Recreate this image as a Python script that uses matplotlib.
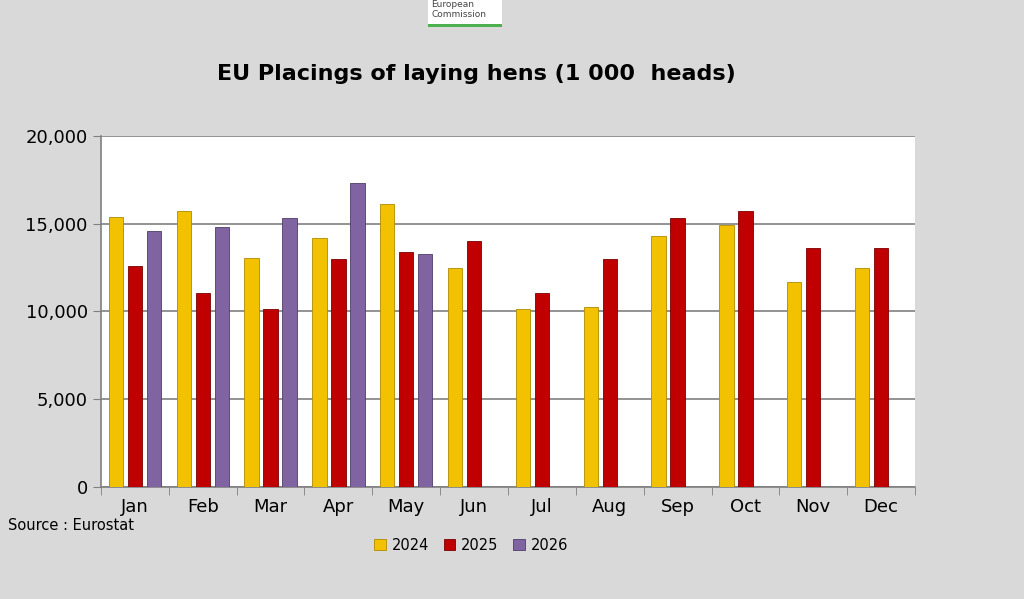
import numpy as np
import matplotlib
matplotlib.use("Agg")
import matplotlib.pyplot as plt
from matplotlib.ticker import FuncFormatter, MultipleLocator

months = ["Jan", "Feb", "Mar", "Apr", "May", "Jun", "Jul", "Aug", "Sep", "Oct", "Nov", "Dec"]
y2024 = [15400, 15700, 13050, 14200, 16100, 12500, 10150, 10250, 14300, 14900, 11700, 12500]
y2025 = [12600, 11050, 10150, 13000, 13400, 14000, 11050, 13000, 15300, 15700, 13600, 13600]
y2026 = [14600, 14800, 15300, 17300, 13300]

fig = plt.figure(figsize=(10.24, 5.99), dpi=100)
fig.patch.set_facecolor("#d9d9d9")
ax = fig.add_axes([0.0986, 0.187, 0.795, 0.586])
ax.set_facecolor("white")

x = np.arange(len(months))
w = 0.21
ax.bar(x - 0.28, y2024, w, color="#f2c200", edgecolor="#b08a00", linewidth=0.6, label="2024", zorder=3)
ax.bar(x, y2025, w, color="#c00000", edgecolor="#7a0000", linewidth=0.6, label="2025", zorder=3)
ax.bar(x[:len(y2026)] + 0.28, y2026, w, color="#8064a2", edgecolor="#4f3b6b", linewidth=0.6, label="2026", zorder=3)

ax.set_xlim(-0.5, 11.5)
ax.set_ylim(0, 20000)
ax.yaxis.set_major_locator(MultipleLocator(5000))
ax.yaxis.set_major_formatter(FuncFormatter(lambda v, p: f"{int(v):,}"))
ax.grid(axis="y", color="#808080", linewidth=1.2, zorder=0)
ax.set_xticks(x)
ax.set_xticklabels(months)
ax.set_xticks(np.arange(-0.5, 12, 1), minor=True)
ax.tick_params(axis="x", which="major", length=0, labelsize=13, pad=8)
ax.tick_params(axis="x", which="minor", length=6, color="#808080")
ax.tick_params(axis="y", labelsize=13, length=6, color="#808080")
for s in ["top", "right"]:
    ax.spines[s].set_visible(False)
for s in ["left", "bottom"]:
    ax.spines[s].set_color("#808080")
    ax.spines[s].set_linewidth(1.2)

fig.text(0.465, 0.877, "EU Placings of laying hens (1 000  heads)", ha="center", va="center",
         fontsize=16, fontweight="bold")
fig.text(0.008, 0.122, "Source : Eurostat", fontsize=10.5, va="center")

# logo stub
fig.patches.append(plt.Rectangle((0.418, 0.958), 0.072, 0.042, transform=fig.transFigure,
                                 facecolor="white", edgecolor="none"))
fig.patches.append(plt.Rectangle((0.418, 0.955), 0.072, 0.005, transform=fig.transFigure,
                                 facecolor="#4caf50", edgecolor="none"))
fig.text(0.421, 0.993, "European", fontsize=6.5, color="#444444", va="center")
fig.text(0.421, 0.975, "Commission", fontsize=6.5, color="#444444", va="center")

fig.legend(loc="center", bbox_to_anchor=(0.46, 0.09), ncol=3, frameon=False,
           fontsize=10.5, handlelength=0.8, handleheight=0.8, columnspacing=1.0, handletextpad=0.4)

fig.savefig("out.png", dpi=100, facecolor=fig.get_facecolor())
